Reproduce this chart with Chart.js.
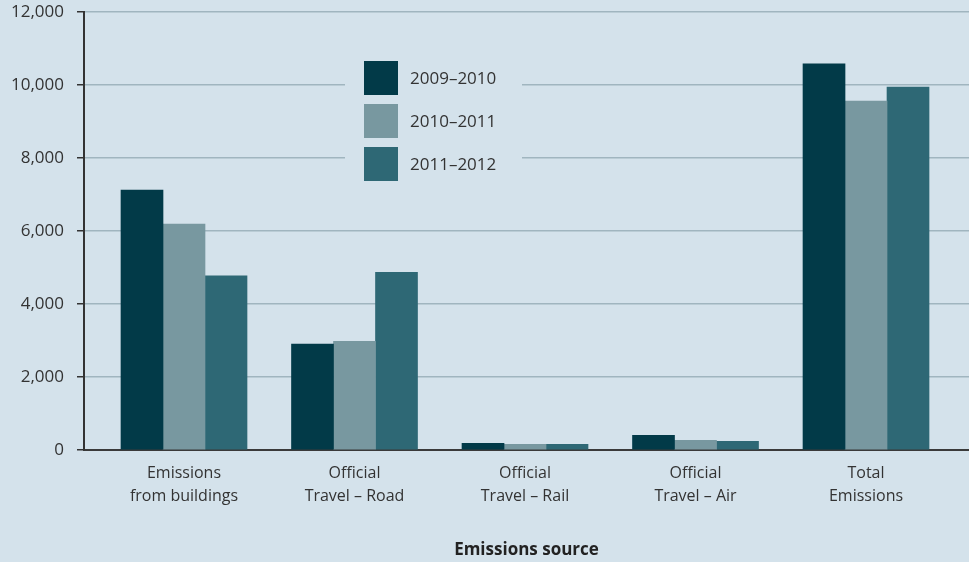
<!DOCTYPE html>
<html>
<head>
<meta charset="utf-8">
<script src="https://cdn.jsdelivr.net/npm/chart.js@4.4.1/dist/chart.umd.min.js"></script>
<style>
  html, body { margin: 0; padding: 0; background: #d4e2eb; }
  .chartBox { width: 969px; height: 562px; position: relative; }
</style>
</head>
<body>
<div class="chartBox"><canvas id="myChart"></canvas></div>
<script>
var ctx = document.getElementById("myChart").getContext("2d");

// values
const categories = [
  ["Emissions", "from buildings"],
  ["Official", "Travel \u2013 Road"],
  ["Official", "Travel \u2013 Rail"],
  ["Official", "Travel \u2013 Air"],
  ["Total", "Emissions"],
];
const seriesNames = ["2009\u20132010", "2010\u20132011", "2011\u20132012"];
const s2009 = [7120, 2900, 180, 400, 10580];
const s2010 = [6190, 2980, 155, 265, 9560];
const s2011 = [4770, 4870, 155, 240, 9945];
const seriesColors = ["#023a48", "#7898a0", "#2e6875"];
const yTicks = [0, 2000, 4000, 6000, 8000, 10000, 12000];

const bgColor = "#d4e2eb";
const textColor = "#333333";

function toPoints(values) {
  return values.map((v, i) => ({ x: i, y: v }));
}

// legend drawn inside the plot, over the grid lines
const insideLegend = {
  id: "insideLegend",
  afterDraw(chart) {
    let c = chart.ctx;
    c.save();
    c.fillStyle = bgColor;
    c.fillRect(345, 54, 177, 136);
    c.font = "17px 'Open Sans'";
    c.textBaseline = "middle";
    c.textAlign = "left";
    seriesNames.forEach((name, i) => {
      let top = 61 + i * 43;
      c.fillStyle = seriesColors[i];
      c.fillRect(364, top, 34, 34);
      c.fillStyle = textColor;
      c.fillText(name, 410, top + 18);
    });
    c.restore();
  },
};

var myChart = new Chart(ctx, {
  type: "bar",
  data: {
    datasets: [
      { label: seriesNames[0], data: toPoints(s2009), backgroundColor: seriesColors[0] },
      { label: seriesNames[1], data: toPoints(s2010), backgroundColor: seriesColors[1] },
      { label: seriesNames[2], data: toPoints(s2011), backgroundColor: seriesColors[2] },
    ],
  },
  options: {
    responsive: true,
    maintainAspectRatio: false,
    animation: false,
    layout: { padding: 0 },
    datasets: { bar: { barThickness: 42, borderWidth: 0 } },
    plugins: {
      legend: { display: false },
      tooltip: { enabled: false },
    },
    scales: {
      x: {
        type: "linear",
        offset: false,
        min: -0.5865,
        max: 4.604,
        grid: { display: false, drawTicks: false, offset: false },
        border: { display: true, color: "#3a3a3a", width: 2 },
        afterBuildTicks(scale) {
          scale.ticks = categories.map((c, i) => ({ value: i }));
        },
        afterFit(scale) {
          scale.height = 112;
        },
        ticks: {
          padding: 12,
          maxRotation: 0,
          autoSkip: false,
          color: textColor,
          font: { family: "'Open Sans'", size: 16, lineHeight: 1.44 },
          callback: (v) => categories[v],
        },
        title: {
          display: true,
          text: "Emissions source",
          color: "#222222",
          font: { family: "'Open Sans'", size: 17, weight: "bold" },
          padding: { top: 0, bottom: 2 },
        },
      },
      y: {
        min: 0,
        max: 12000,
        afterBuildTicks(scale) {
          scale.ticks = yTicks.map((v) => ({ value: v }));
        },
        afterFit(scale) {
          scale.width = 84;
          scale.paddingTop = 12;
          scale.paddingBottom = 0;
        },
        grid: {
          color: "#a0b5bf",
          lineWidth: 1.5,
          tickColor: "#333333",
          tickLength: 7,
        },
        border: { display: true, color: "#333333", width: 2 },
        ticks: {
          padding: 13,
          color: textColor,
          font: { family: "'Open Sans'", size: 17 },
          callback: (v) => v.toLocaleString("en-US"),
        },
      },
    },
  },
  plugins: [insideLegend],
});
</script>
</body>
</html>
